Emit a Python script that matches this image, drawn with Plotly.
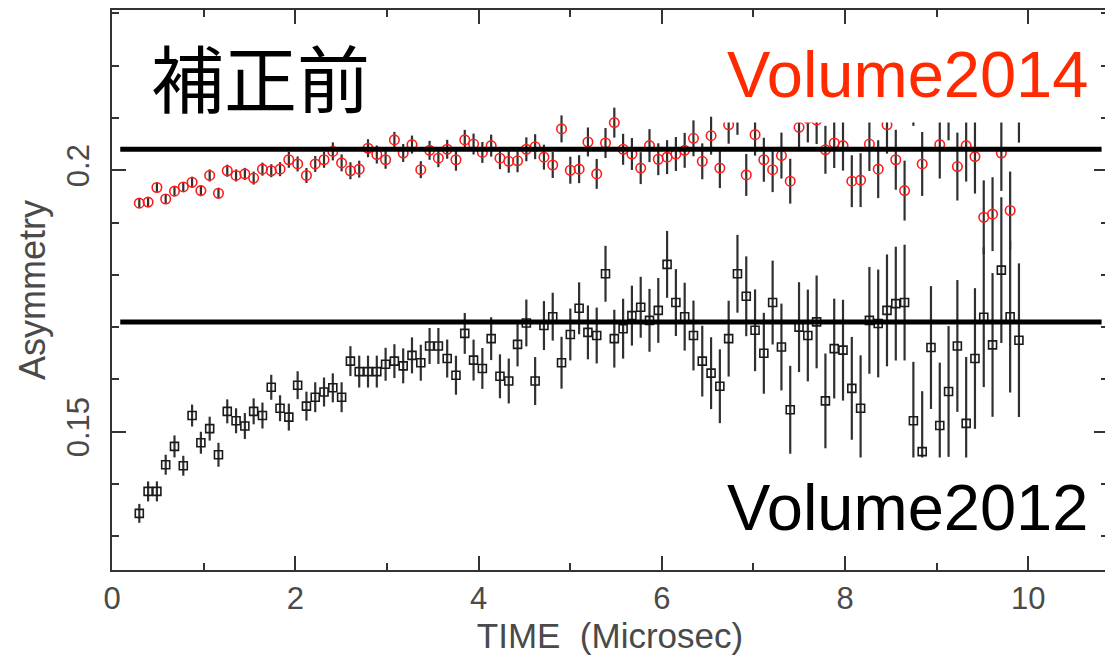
import plotly.graph_objects as go

# ---------------- data ----------------
time_us = [0.298, 0.394, 0.490, 0.586, 0.682, 0.778, 0.874, 0.970, 1.066, 1.162,
           1.258, 1.354, 1.450, 1.546, 1.642, 1.738, 1.834, 1.930, 2.026, 2.122,
           2.218, 2.314, 2.410, 2.506, 2.602, 2.698, 2.794, 2.890, 2.986, 3.082,
           3.178, 3.274, 3.370, 3.466, 3.562, 3.658, 3.754, 3.850, 3.946, 4.042,
           4.138, 4.234, 4.330, 4.426, 4.522, 4.618, 4.714, 4.810, 4.906, 5.002,
           5.098, 5.194, 5.290, 5.386, 5.482, 5.578, 5.674, 5.770, 5.866, 5.962,
           6.058, 6.154, 6.250, 6.346, 6.442, 6.538, 6.634, 6.730, 6.826, 6.922,
           7.018, 7.114, 7.210, 7.306, 7.402, 7.498, 7.594, 7.690, 7.786, 7.882,
           7.978, 8.074, 8.170, 8.266, 8.362, 8.458, 8.554, 8.650, 8.746, 8.842,
           8.938, 9.034, 9.130, 9.226, 9.322, 9.418, 9.514, 9.610, 9.706, 9.802,
           9.898]

asym_2014 = [0.1937, 0.1939, 0.1967, 0.1945, 0.1960, 0.1968, 0.1977, 0.1961, 0.1990, 0.1956,
             0.1999, 0.1990, 0.1993, 0.1985, 0.2002, 0.1999, 0.2002, 0.2020, 0.2012, 0.1990,
             0.2012, 0.2020, 0.2036, 0.2014, 0.1999, 0.2002, 0.2042, 0.2030, 0.2020, 0.2058,
             0.2033, 0.2049, 0.2001, 0.2038, 0.2023, 0.2040, 0.2020, 0.2058, 0.2050, 0.2034,
             0.2047, 0.2023, 0.2017, 0.2018, 0.2040, 0.2045, 0.2025, 0.2010, 0.2079, 0.2000,
             0.2002, 0.2054, 0.1993, 0.2052, 0.2091, 0.2040, 0.2031, 0.2004, 0.2047, 0.2021,
             0.2025, 0.2031, 0.2038, 0.2061, 0.2017, 0.2066, 0.2004, 0.2087, 0.2104, 0.1991,
             0.2068, 0.2020, 0.2001, 0.2028, 0.1979, 0.2082, 0.2099, 0.2096, 0.2039, 0.2052,
             0.2047, 0.1979, 0.1981, 0.2050, 0.2002, 0.2087, 0.2020, 0.1961, 0.2144, 0.2012,
             0.2157, 0.2049, 0.2122, 0.2007, 0.2047, 0.2026, 0.1910, 0.1916, 0.2033, 0.1923,
             0.2129]

err_2014 = [0.00086, 0.00086, 0.00095, 0.00095, 0.00095, 0.00095, 0.00105, 0.00105, 0.00115, 0.00105,
            0.00115, 0.00115, 0.00115, 0.00124, 0.00124, 0.00124, 0.00134, 0.00153, 0.00143, 0.00143,
            0.00153, 0.00153, 0.00172, 0.00162, 0.00162, 0.00162, 0.00172, 0.00172, 0.00172, 0.00153,
            0.00172, 0.00172, 0.00162, 0.00181, 0.00172, 0.00181, 0.00210, 0.00191, 0.00200, 0.00200,
            0.00210, 0.00210, 0.00219, 0.00219, 0.00229, 0.00239, 0.00239, 0.00248, 0.00258, 0.00258,
            0.00267, 0.00277, 0.00286, 0.00286, 0.00286, 0.00296, 0.00305, 0.00305, 0.00315, 0.00305,
            0.00324, 0.00324, 0.00334, 0.00343, 0.00343, 0.00363, 0.00382, 0.00363, 0.00363, 0.00401,
            0.00401, 0.00420, 0.00429, 0.00439, 0.00429, 0.00439, 0.00458, 0.00458, 0.00458, 0.00477,
            0.00477, 0.00496, 0.00515, 0.00515, 0.00553, 0.00553, 0.00573, 0.00573, 0.00592, 0.00611,
            0.00611, 0.00649, 0.00649, 0.00649, 0.00687, 0.00706, 0.00706, 0.00706, 0.00725, 0.00744,
            0.00763]

asym_2012 = [0.1344, 0.1386, 0.1386, 0.1437, 0.1472, 0.1435, 0.1531, 0.1479, 0.1506, 0.1456,
             0.1539, 0.1521, 0.1511, 0.1539, 0.1531, 0.1585, 0.1545, 0.1528, 0.1589, 0.1549,
             0.1566, 0.1576, 0.1584, 0.1566, 0.1635, 0.1615, 0.1615, 0.1615, 0.1629, 0.1635,
             0.1626, 0.1646, 0.1632, 0.1664, 0.1664, 0.1640, 0.1608, 0.1688, 0.1637, 0.1621,
             0.1678, 0.1606, 0.1597, 0.1667, 0.1708, 0.1597, 0.1703, 0.1720, 0.1632, 0.1686,
             0.1736, 0.1690, 0.1684, 0.1802, 0.1678, 0.1697, 0.1722, 0.1738, 0.1713, 0.1732,
             0.1820, 0.1747, 0.1720, 0.1684, 0.1635, 0.1612, 0.1587, 0.1678, 0.1802, 0.1759,
             0.1694, 0.1650, 0.1747, 0.1662, 0.1542, 0.1700, 0.1684, 0.1710, 0.1559, 0.1659,
             0.1656, 0.1583, 0.1545, 0.1713, 0.1707, 0.1732, 0.1745, 0.1747, 0.1521, 0.1462,
             0.1661, 0.1512, 0.1577, 0.1664, 0.1516, 0.1640, 0.1719, 0.1666, 0.1809, 0.1720,
             0.1675]

err_2012 = [0.00181, 0.00191, 0.00191, 0.00191, 0.00210, 0.00191, 0.00210, 0.00210, 0.00229, 0.00229,
            0.00229, 0.00239, 0.00248, 0.00248, 0.00248, 0.00239, 0.00248, 0.00258, 0.00267, 0.00277,
            0.00286, 0.00277, 0.00277, 0.00286, 0.00286, 0.00305, 0.00305, 0.00305, 0.00315, 0.00324,
            0.00334, 0.00344, 0.00344, 0.00344, 0.00344, 0.00363, 0.00372, 0.00391, 0.00391, 0.00391,
            0.00410, 0.00420, 0.00429, 0.00420, 0.00448, 0.00458, 0.00468, 0.00458, 0.00496, 0.00496,
            0.00496, 0.00515, 0.00534, 0.00534, 0.00553, 0.00573, 0.00573, 0.00582, 0.00601, 0.00620,
            0.00639, 0.00639, 0.00649, 0.00668, 0.00677, 0.00687, 0.00706, 0.00725, 0.00744, 0.00763,
            0.00782, 0.00773, 0.00802, 0.00830, 0.00840, 0.00859, 0.00878, 0.00887, 0.00906, 0.00954,
            0.00964, 0.00983, 0.01011, 0.01021, 0.01031, 0.01069, 0.01088, 0.01107, 0.01126, 0.01155,
            0.01174, 0.01202, 0.01250, 0.01260, 0.01269, 0.01345, 0.01336, 0.01374, 0.01393, 0.01450,
            0.01469]

reference_levels = [0.2040, 0.1710]      # the two thick horizontal guide lines

x_ticks = [0, 2, 4, 6, 8, 10]
x_tick_labels = ["0", "2", "4", "6", "8", "10"]
x_minor_ticks = [1, 3, 5, 7, 9]
y_ticks = [0.15, 0.2]
y_tick_labels = ["0.15", "0.2"]
y_minor_ticks = [0.13, 0.14, 0.16, 0.17, 0.18, 0.19, 0.21, 0.22, 0.23]

title_text = "補正前"
label_2014 = "Volume2014"
label_2012 = "Volume2012"
x_title = "TIME\u00a0\u00a0(Microsec)"
y_title = "Asymmetry"

# ---------------- style / layout constants ----------------
# The page body has an 8 px default margin, so the figure is sized/margined to compensate.
X_RANGE = [0, 10.87]
Y_RANGE = [0.12357, 0.23063]
GUIDE_X = [0.09, 10.80]
BOX_X = [6.64, 10.76]
BOX_TOP = [0.2091, 0.2272]
BOX_BOTTOM = [0.1266, 0.1451]
AXIS_COL = "#333333"
TEXT_COL = "#4a4a4a"
TICK_FONT = dict(family="Liberation Sans, Arial, sans-serif", size=31, color=TEXT_COL)
XTITLE_FONT = dict(family="Liberation Sans, Arial, sans-serif", size=35, color=TEXT_COL)
YTITLE_FONT = dict(family="Liberation Sans, Arial, sans-serif", size=36, color=TEXT_COL)

fig = go.Figure()

fig.add_trace(go.Scatter(
    x=time_us, y=asym_2012, mode="markers",
    marker=dict(symbol="square-open", size=8, color="#1a1a1a", line=dict(width=1.6, color="#1a1a1a")),
    error_y=dict(type="data", array=err_2012, symmetric=True, color="#303030", thickness=2.2, width=0),
    showlegend=False, name=label_2012))

fig.add_trace(go.Scatter(
    x=time_us, y=asym_2014, mode="markers",
    marker=dict(symbol="circle-open", size=9.5, color="#ff1a1a", line=dict(width=1.6, color="#ff1a1a")),
    error_y=dict(type="data", array=err_2014, symmetric=True, color="#303030", thickness=2.2, width=0),
    showlegend=False, name=label_2014))

shapes = []
for lvl in reference_levels:
    shapes.append(dict(type="line", xref="x", yref="y", x0=GUIDE_X[0], x1=GUIDE_X[1],
                       y0=lvl, y1=lvl, line=dict(color="black", width=5), layer="above"))
for ys in (BOX_TOP, BOX_BOTTOM):
    shapes.append(dict(type="rect", xref="x", yref="y", x0=BOX_X[0], x1=BOX_X[1],
                       y0=ys[0], y1=ys[1], fillcolor="white", line=dict(width=0), layer="above"))

annotations = [
    dict(text=title_text, xref="paper", yref="paper", x=0.149, y=0.884,
         xanchor="center", yanchor="middle", showarrow=False,
         font=dict(family="Noto Sans CJK JP", size=73, color="black")),
    dict(text=label_2014, xref="paper", yref="paper", x=0.799, y=0.884,
         xanchor="center", yanchor="middle", showarrow=False,
         font=dict(family="Liberation Sans, Arial, sans-serif", size=65, color="#ff2a00")),
    dict(text=label_2012, xref="paper", yref="paper", x=0.799, y=0.1125,
         xanchor="center", yanchor="middle", showarrow=False,
         font=dict(family="Liberation Sans, Arial, sans-serif", size=65, color="black")),
]

axis_common = dict(showgrid=False, zeroline=False, showline=True, linecolor=AXIS_COL, linewidth=1.5,
                   mirror="ticks", ticks="inside", ticklen=14, tickwidth=1.5, tickcolor=AXIS_COL,
                   tickfont=TICK_FONT, automargin=False)

fig.update_layout(
    width=1105, height=652,
    margin=dict(l=104, r=5, t=2, b=90, pad=0),
    paper_bgcolor="white", plot_bgcolor="white",
    shapes=shapes, annotations=annotations,
    xaxis=dict(range=X_RANGE, tickmode="array", tickvals=x_ticks, ticktext=x_tick_labels,
               minor=dict(tickmode="array", tickvals=x_minor_ticks, ticks="inside", ticklen=7,
                          tickwidth=1.5, tickcolor=AXIS_COL),
               ticklabelstandoff=0,
               title=dict(text=x_title, font=XTITLE_FONT, standoff=0),
               **axis_common),
    yaxis=dict(range=Y_RANGE, tickmode="array", tickvals=y_ticks, ticktext=y_tick_labels,
               tickangle=-90,
               minor=dict(tickmode="array", tickvals=y_minor_ticks, ticks="inside", ticklen=7,
                          tickwidth=1.5, tickcolor=AXIS_COL),
               ticklabelstandoff=9,
               title=dict(text=y_title, font=YTITLE_FONT, standoff=4),
               **axis_common),
)

fig.write_html("out.html")
